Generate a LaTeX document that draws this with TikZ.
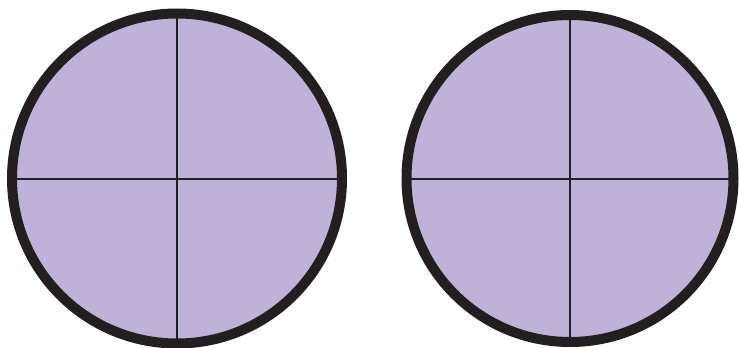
\documentclass[tikz,border=0pt]{standalone}
\usepackage{tikz}
\usetikzlibrary{calc}

\definecolor{lavender}{RGB}{190,178,216}
\definecolor{rim}{RGB}{35,31,32}

\begin{document}
\begin{tikzpicture}[x=1pt,y=-1pt,
    disc/.style={fill=lavender},
    rimline/.style={draw=rim, line width=10pt},
    cutline/.style={draw=rim, line width=2pt}]
  \useasboundingbox (0,0) rectangle (739,348);
  \foreach \cx/\r [count=\i] in {177/165, 570/163.5} {
    \coordinate (c\i) at (\cx,178.5);
    \fill[disc] (c\i) circle (\r);
    \draw[cutline] ($(c\i)+(-\r,0)$) -- ($(c\i)+(\r,0)$);
    \draw[cutline] ($(c\i)+(0,-\r)$) -- ($(c\i)+(0,\r)$);
    \draw[rimline] (c\i) circle (\r);
  }
\end{tikzpicture}
\end{document}
